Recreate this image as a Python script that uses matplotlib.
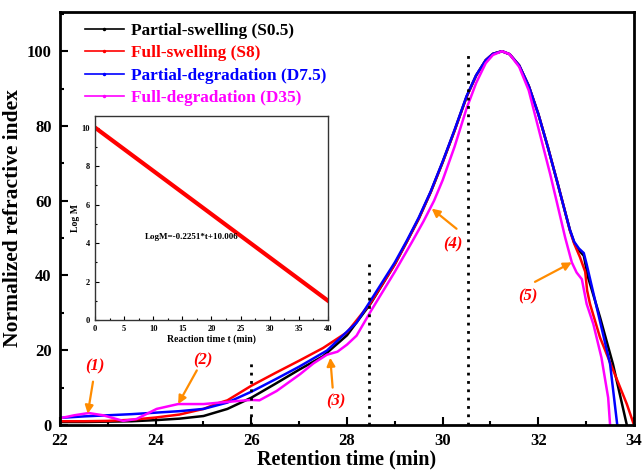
import numpy as np
import matplotlib
matplotlib.use("Agg")
import matplotlib.pyplot as plt
from matplotlib.ticker import MultipleLocator
from matplotlib.lines import Line2D

plt.rcParams['font.family'] = ['Liberation Serif', 'DejaVu Serif']
plt.rcParams['font.weight'] = 'bold'

# ---- data ----
x_s05 = [22.0, 22.5, 23.0, 23.5, 24.0, 24.5, 25.0, 25.5, 26.0, 26.5, 27.0, 27.5, 28.0, 28.5,
         29.0, 29.25, 29.5, 29.75, 30.0, 30.25, 30.5, 30.7, 30.9, 31.05, 31.24, 31.4, 31.6, 31.8,
         32.0, 32.2, 32.4, 32.55, 32.66, 32.75, 32.85, 32.95, 33.04, 33.29, 33.56, 33.85]
y_s05 = [0.8, 0.8, 0.9, 1.0, 1.3, 1.7, 2.4, 4.3, 7.3, 11.0, 14.8, 18.4, 24.0, 32.6,
         43.0, 49.0, 55.2, 62.3, 70.3, 78.8, 87.8, 93.5, 97.6, 99.3, 100.0, 99.2, 96.2, 90.7,
         83.2, 74.3, 64.8, 57.5, 52.2, 48.8, 46.7, 45.3, 39.5, 28.8, 16.3, 0.0]

x_s8 = [22.0, 22.5, 23.0, 23.5, 24.0, 24.5, 25.0, 25.3, 25.5, 26.0, 26.5, 27.0, 27.5, 28.0, 28.5,
        29.0, 29.25, 29.5, 29.75, 30.0, 30.25, 30.5, 30.7, 30.9, 31.05, 31.24, 31.4, 31.6, 31.8,
        32.0, 32.2, 32.4, 32.55, 32.66, 32.75, 32.87, 32.98, 33.02, 33.08, 33.29, 33.57, 33.85, 34.0]
y_s8 = [1.0, 1.0, 1.1, 1.4, 2.0, 2.8, 4.3, 5.8, 6.6, 10.5, 13.9, 17.2, 20.6, 24.8, 32.8,
        43.0, 49.0, 55.2, 62.3, 70.3, 78.8, 87.8, 93.5, 97.6, 99.3, 100.0, 99.2, 96.2, 90.7,
        83.2, 74.3, 64.8, 57.5, 52.0, 48.5, 44.9, 41.0, 36.0, 32.4, 23.4, 14.5, 5.6, 0.0]

x_d75 = [22.0, 22.5, 23.0, 23.5, 24.0, 24.5, 25.0, 25.5, 26.0, 26.5, 27.0, 27.58, 28.2, 28.5,
         29.0, 29.25, 29.5, 29.75, 30.0, 30.25, 30.5, 30.7, 30.9, 31.05, 31.24, 31.4, 31.6, 31.8,
         32.0, 32.2, 32.4, 32.55, 32.66, 32.75, 32.85, 32.95, 33.01, 33.22, 33.5, 33.65]
y_d75 = [1.9, 2.3, 2.6, 2.9, 3.3, 3.7, 4.3, 6.0, 8.9, 12.2, 15.6, 19.9, 27.4, 33.4,
         43.5, 49.3, 55.5, 62.5, 70.5, 79.0, 88.0, 93.6, 97.6, 99.3, 100.0, 99.2, 96.2, 90.7,
         83.2, 74.3, 64.8, 57.5, 52.2, 49.0, 47.2, 46.0, 43.0, 31.5, 16.3, 0.0]

x_d35 = [22.0, 22.3, 22.6, 22.9, 23.32, 23.6, 24.02, 24.47, 25.0, 25.35, 25.7, 26.0, 26.17, 26.53,
         27.02, 27.3, 27.58, 27.8, 28.0, 28.2, 28.5, 29.0, 29.36, 29.6, 29.82, 30.0, 30.25, 30.5,
         30.7, 30.9, 31.05, 31.24, 31.4, 31.6, 31.8, 32.0, 32.1, 32.25, 32.38, 32.56, 32.7, 32.8,
         32.91, 33.01, 33.15, 33.32, 33.46, 33.5]
y_d35 = [1.8, 2.6, 3.2, 2.6, 1.1, 1.6, 4.3, 5.6, 5.6, 6.0, 6.4, 6.7, 6.6, 9.1,
         13.6, 16.5, 18.8, 19.6, 21.5, 23.9, 30.5, 41.0, 49.0, 54.5, 60.0, 65.5, 74.5, 84.7,
         91.5, 96.8, 99.0, 100.0, 99.2, 95.8, 89.5, 79.5, 74.5, 67.0, 60.0, 50.2, 43.5, 40.8,
         39.0, 32.4, 27.0, 18.0, 7.3, 0.0]

series = [
    (x_s05, y_s05, 'black', 'Partial-swelling (S0.5)'),
    (x_s8, y_s8, 'red', 'Full-swelling (S8)'),
    (x_d75, y_d75, 'blue', 'Partial-degradation (D7.5)'),
    (x_d35, y_d35, 'magenta', 'Full-degradation (D35)'),
]

# dotted markers of retention time
vline_x = [26.0, 28.46, 30.53]
vline_top = [17.0, 44.0, 99.5]

# annotations: label, text pos, arrow tail, arrow head
ann_labels = ['(1)', '(2)', '(3)', '(4)', '(5)']
ann_text = [(22.73, 15.8), (24.98, 17.2), (27.76, 6.2), (30.22, 48.3), (31.78, 34.5)]
ann_tail = [(22.69, 11.6), (24.86, 14.6), (27.7, 10.0), (30.29, 52.5), (31.93, 38.3)]
ann_head = [(22.58, 3.0), (24.47, 5.6), (27.65, 18.0), (29.77, 57.9), (32.7, 43.5)]

# inset: log M vs reaction time
t_inset = [0, 40]
logm_inset = [10.006, 10.006 - 0.2251 * 40]

fig = plt.figure(figsize=(6.43, 4.72), dpi=100)
ax = fig.add_axes([0.0933, 0.0996, 0.8927, 0.875])

handles = []
for xs, ys, c, lab in series:
    ax.plot(xs, ys, color=c, lw=1.8)
    handles.append(Line2D([], [], color=c, lw=1.2, marker='.', ms=3, label=lab))

for vx, vt in zip(vline_x, vline_top):
    ax.plot([vx, vx], [0, vt], color='black', ls=(0, (1, 2)), lw=2)

for lab, (tx, ty), (sx, sy), (hx, hy) in zip(ann_labels, ann_text, ann_tail, ann_head):
    ax.annotate('', xy=(hx, hy), xytext=(sx, sy),
                arrowprops=dict(arrowstyle='-|>', color='darkorange', lw=1.6,
                                mutation_scale=12, shrinkA=0, shrinkB=0))
    ax.text(tx, ty, lab, color='red', fontsize=12, style='italic',
            ha='center', va='center')

ax.set_xlim(22, 34)
ax.set_ylim(0, 110.5)
ax.xaxis.set_major_locator(MultipleLocator(2))
ax.xaxis.set_minor_locator(MultipleLocator(1))
ax.yaxis.set_major_locator(MultipleLocator(20))
ax.yaxis.set_minor_locator(MultipleLocator(10))
ax.tick_params(which='both', direction='in', width=1.5, labelsize=12)
ax.tick_params(axis='x', pad=6)
ax.tick_params(axis='y', pad=6)
ax.tick_params(which='major', length=6)
ax.tick_params(which='minor', length=3)
ax.set_yticks([0, 20, 40, 60, 80, 100])
for sp in ax.spines.values():
    sp.set_linewidth(2)
ax.set_xlabel('Retention time (min)', fontsize=14.5, fontweight='bold', labelpad=0)
ax.set_ylabel('Normalized refractive index', fontsize=15.5, fontweight='bold', labelpad=3)

ax.legend(handles=handles, loc='upper left', bbox_to_anchor=(0.016, 1.012), frameon=False,
          fontsize=12.4, handlelength=2.3, handletextpad=0.4, labelspacing=0.38,
          labelcolor='linecolor', numpoints=1)

# inset
axi = fig.add_axes([0.1477, 0.322, 0.3624, 0.432])
axi.plot(t_inset, logm_inset, color='red', lw=3)
axi.set_xlim(0, 40)
axi.set_ylim(0, 10.6)
axi.xaxis.set_major_locator(MultipleLocator(5))
axi.xaxis.set_minor_locator(MultipleLocator(2.5))
axi.yaxis.set_major_locator(MultipleLocator(2))
axi.yaxis.set_minor_locator(MultipleLocator(1))
axi.tick_params(which='both', direction='in', labelsize=6, width=0.8)
axi.tick_params(which='major', length=3)
axi.tick_params(which='minor', length=1.5)
for sp in axi.spines.values():
    sp.set_linewidth(1)
    sp.set_color('#333333')
axi.set_xlabel('Reaction time t (min)', fontsize=7, fontweight='bold', labelpad=1)
axi.set_ylabel('Log M', fontsize=7, fontweight='bold', labelpad=1)
axi.text(8.6, 4.3, 'LogM=-0.2251*t+10.006', fontsize=6.5, fontweight='bold', va='center')

fig.savefig('out.png', dpi=100)
